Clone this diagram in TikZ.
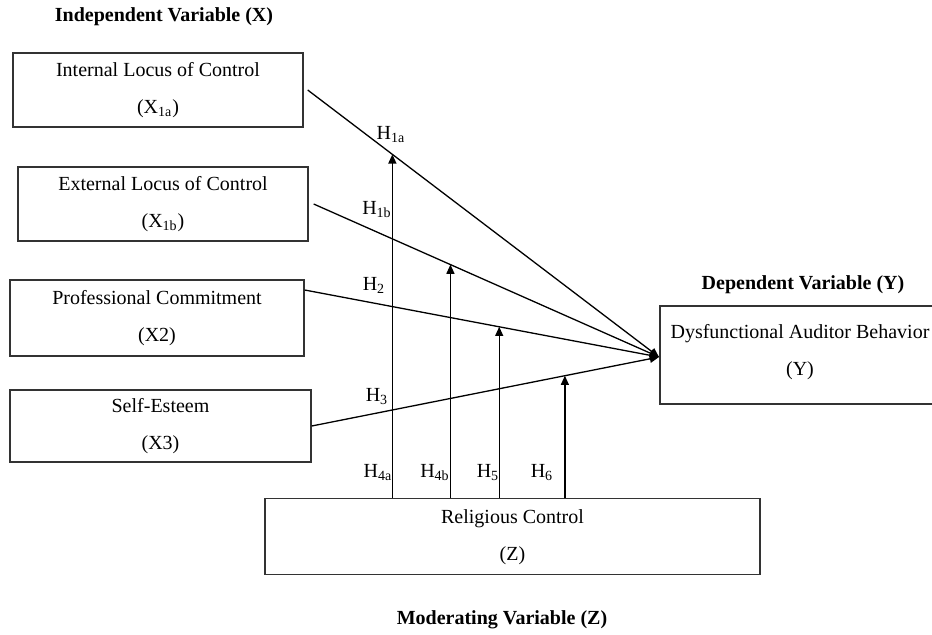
\documentclass[tikz,border=0pt]{standalone}
\usepackage{fontspec}
\setmainfont{Liberation Serif}
\usetikzlibrary{arrows.meta, positioning, calc}

\begin{document}
\begin{tikzpicture}[x=0.5pt, y=-0.5pt,
        every node/.style={font=\fontsize{10}{18.5}\selectfont, align=center},
        box/.style={draw=black!80, line width=0.7pt, inner sep=0pt},
        title/.style={font=\fontsize{10}{12}\selectfont\bfseries},
        hyp/.style={inner sep=0pt},
        link/.style={draw, line width=0.65pt, -{Triangle[length=4.6pt,width=4pt]}}
    ]
    \useasboundingbox (0,0) rectangle (932,634);

    % variables
    \node[box, minimum width=145pt, minimum height=37pt] (x1a) at (158,90) {Internal Locus of Control\\(X\textsubscript{1a})};
    \node[box, minimum width=145pt, minimum height=37pt] (x1b) at (163,204) {External Locus of Control\\(X\textsubscript{1b})};
    \node[box, minimum width=147pt, minimum height=38pt] (x2) at (157,318) {Professional Commitment\\(X2)};
    \node[box, minimum width=150.5pt, minimum height=36pt] (x3) at (160.5,426) {Self-Esteem\\(X3)};
    \node[box, minimum width=140pt, minimum height=49pt] (y) at (800,355) {Dysfunctional Auditor Behavior\\(Y)\\[-13pt]};
    \node[box, minimum width=247.5pt, minimum height=38pt] (z) at (512.5,536.7) {Religious Control\\(Z)};

    \node[title] (indep) at (164,17) {Independent Variable (X)};
    \node[title] (dep) at (803,285) {Dependent Variable (Y)};
    \node[title] (moder) at (502,620) {Moderating Variable (Z)};

    % direct effects
    \coordinate (tip) at (659,357);
    \draw[link] ([xshift=2pt]x1a.east) -- coordinate[pos=.241] (m1a) (tip);
    \draw[link] ([xshift=2.5pt]x1b.east) -- coordinate[pos=.396] (m1b) (tip);
    \draw[link] ([yshift=14pt]x2.east) -- coordinate[pos=.549] (m2) (tip);
    \draw[link] (x3.east) -- coordinate[pos=.729] (m3) (tip);

    % moderation
    \draw[link] (z.north -| m1a) -- (m1a);
    \draw[link] (z.north -| m1b) -- (m1b);
    \draw[link] (z.north -| m2) -- (m2);
    \draw[link] (z.north -| m3) -- (m3);

    \node[hyp] (h1a) at (391,135) {H\textsubscript{1a}};
    \node[hyp] (h1b) at (377,210) {H\textsubscript{1b}};
    \node[hyp] (h2) at (374,285) {H\textsubscript{2}};
    \node[hyp] (h3) at (377,397) {H\textsubscript{3}};
    \node[hyp] (h4a) at (378,473) {H\textsubscript{4a}};
    \node[hyp] (h4b) at (435,473) {H\textsubscript{4b}};
    \node[hyp] (h5) at (488,473) {H\textsubscript{5}};
    \node[hyp] (h6) at (542,473) {H\textsubscript{6}};
\end{tikzpicture}
\end{document}
